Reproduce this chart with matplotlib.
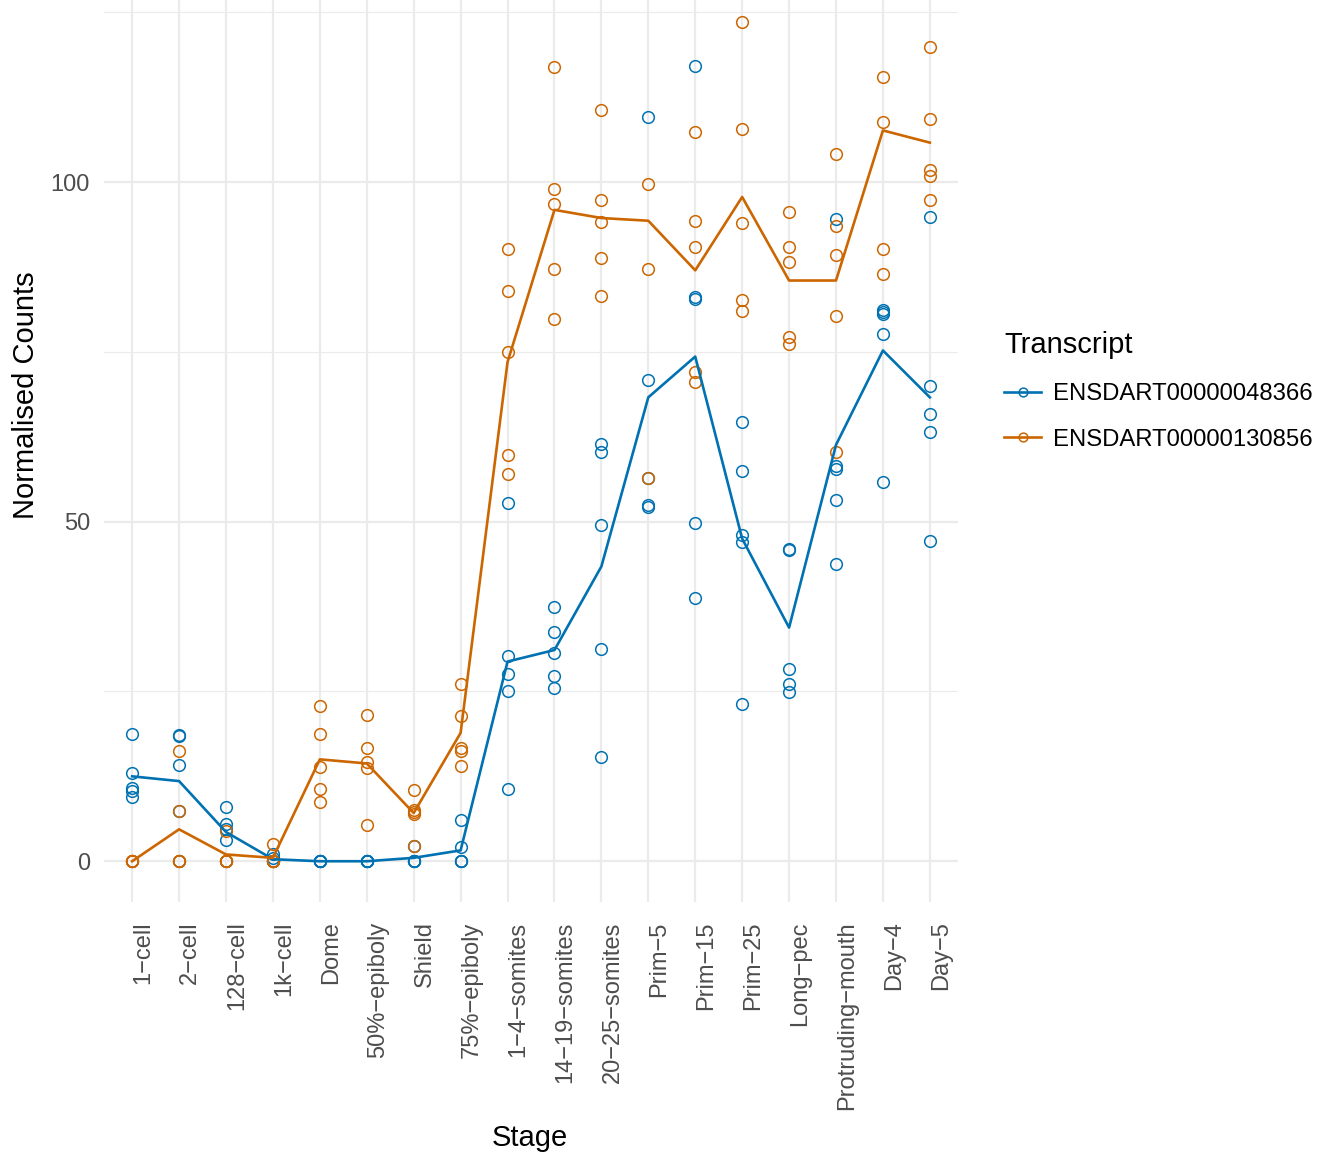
import matplotlib
matplotlib.use("Agg")
import matplotlib.pyplot as plt
from matplotlib.lines import Line2D
import numpy as np

plt.rcParams['font.family'] = ['Liberation Sans', 'DejaVu Sans']

stages = ["1\u2212cell", "2\u2212cell", "128\u2212cell", "1k\u2212cell", "Dome", "50%\u2212epiboly",
          "Shield", "75%\u2212epiboly", "1\u22124\u2212somites", "14\u221219\u2212somites",
          "20\u221225\u2212somites", "Prim\u22125", "Prim\u221215", "Prim\u221225", "Long\u2212pec",
          "Protruding\u2212mouth", "Day\u22124", "Day\u22125"]

transcripts = ["ENSDART00000048366", "ENSDART00000130856"]

# replicate values per stage (visible points)
blue_points = [
    [18.7, 13.0, 10.75, 10.3, 9.4],
    [18.6, 18.4, 14.2, 7.4, 0],
    [8.0, 5.5, 4.8, 3.2, 0],
    [1.0, 0.5, 0, 0, 0],
    [0, 0, 0, 0, 0],
    [0, 0, 0, 0, 0],
    [2.3, 0, 0, 0, 0],
    [6.0, 2.1, 0, 0, 0],
    [52.8, 30.2, 27.5, 25.0, 10.6],
    [37.5, 33.8, 30.7, 27.3, 25.5],
    [61.4, 60.2, 49.5, 31.2, 15.3],
    [109.6, 70.9, 56.4, 52.4, 52.1],
    [117.1, 83.1, 82.8, 49.8, 38.8],
    [64.6, 57.4, 48.1, 47.0, 23.2],
    [46.0, 45.8, 28.3, 26.1, 24.9],
    [94.6, 58.2, 57.7, 53.2, 43.8],
    [81.2, 80.8, 80.6, 77.6, 55.8],
    [94.8, 69.9, 65.9, 63.2, 47.2],
]
orange_points = [
    [0, 0, 0, 0, 0],
    [16.2, 7.4, 0, 0, 0],
    [4.5, 0, 0, 0, 0],
    [2.5, 0, 0, 0, 0],
    [22.9, 18.7, 13.9, 10.7, 8.7],
    [21.6, 16.7, 14.6, 13.7, 5.3],
    [10.5, 7.5, 7.3, 7.0, 2.3],
    [26.1, 21.4, 16.6, 16.3, 14.0],
    [90.1, 84.0, 75.0, 59.8, 57.0],
    [116.9, 99.0, 96.8, 87.2, 79.8],
    [110.6, 97.3, 94.1, 88.8, 83.2],
    [99.7, 87.2, 56.4],
    [107.4, 94.2, 90.5, 72.1, 70.6],
    [123.5, 107.8, 93.9, 82.7, 81.0],
    [95.6, 90.5, 88.2, 77.2, 76.2],
    [104.1, 93.6, 89.2, 80.3, 60.3],
    [115.5, 108.8, 90.2, 86.4],
    [119.9, 109.3, 101.8, 100.9, 97.3],
]

# mean lines
blue_mean = [12.5, 11.8, 4.3, 0.3, 0, 0, 0.5, 1.6, 29.4, 31.1, 43.4, 68.3, 74.3, 47.5, 34.4, 61.3, 75.2, 68.3]
orange_mean = [0, 4.7, 1.0, 0.5, 15.0, 14.4, 7.1, 18.9, 73.5, 95.9, 94.7, 94.3, 87.0, 97.8, 85.5, 85.5, 107.6, 105.8]

colors = ["#0072B2", "#CC6600"]

W, H = 1318, 1155
fig = plt.figure(figsize=(W / 100, H / 100), dpi=100)
left, right, top, bottom = 104, 958, 0, 902
ax = fig.add_axes([left / W, 1 - bottom / H, (right - left) / W, (bottom - top) / H])

x = np.arange(len(stages))
ms = 8.4
mew = 1.1
for pts, col in zip([blue_points, orange_points], colors):
    for i, vals in enumerate(pts):
        ax.plot([x[i]] * len(vals), vals, linestyle='none', marker='o', markersize=ms,
                markerfacecolor='none', markeredgecolor=col, markeredgewidth=mew, zorder=3,
                clip_on=True)
for means, col in zip([blue_mean, orange_mean], colors):
    ax.plot(x, means, color=col, linewidth=1.9, zorder=4)

ax.set_xlim(-0.6, len(stages) - 1 + 0.6)
ax.set_ylim(-6.0, 126.8)

ax.set_yticks([0, 50, 100])
ax.set_yticks([25, 75, 125], minor=True)
ax.set_xticks(x)
ax.set_xticklabels(stages, rotation=90, ha='left', va='top', fontsize=17, color='#4D4D4D')
ax.set_yticklabels(['0', '50', '100'], fontsize=17, color='#4D4D4D')
ax.tick_params(axis='both', which='both', length=0)
ax.tick_params(axis='x', pad=14)
ax.tick_params(axis='y', pad=10)

ax.grid(True, which='major', color='#EBEBEB', linewidth=1.6, zorder=0)
ax.grid(True, which='minor', axis='y', color='#EBEBEB', linewidth=0.8, zorder=0)
ax.set_axisbelow(True)
for s in ax.spines.values():
    s.set_visible(False)

fig.text(530 / W, 1 - 1138 / H, "Stage", ha='center', va='center', fontsize=21, color='black')
fig.text(26 / W, 1 - 395 / H, "Normalised Counts", ha='center', va='center', rotation=90,
         fontsize=21, color='black')

handles = [Line2D([0], [0], color=c, linewidth=1.9, marker='o', markersize=ms * 0.75,
                  markerfacecolor='none', markeredgecolor=c, markeredgewidth=mew) for c in colors]
leg = fig.legend(handles, transcripts, loc='upper left',
                 bbox_to_anchor=(1004 / W, 1 - 331 / H), bbox_transform=fig.transFigure,
                 frameon=False, fontsize=17.2, title="Transcript", title_fontsize=21,
                 handlelength=1.55, handletextpad=0.5, labelspacing=1.0, alignment='left',
                 borderpad=0, borderaxespad=0)

fig.savefig("out.png", dpi=100)
